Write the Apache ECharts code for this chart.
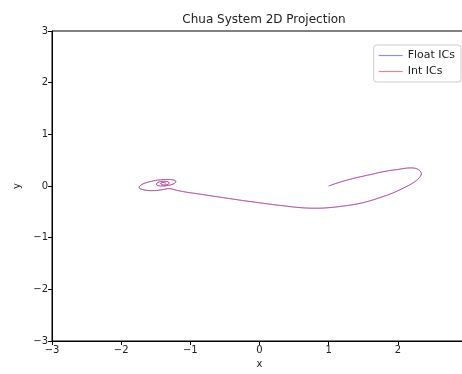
<!DOCTYPE html>
<html>
<head>
<meta charset="utf-8">
<script src="https://cdn.jsdelivr.net/npm/echarts@6/dist/echarts.min.js"></script>
<style>html,body{margin:0;padding:0;background:#fff}#c{width:462px;height:374px}</style>
</head>
<body>
<div id="c"></div>
<script>
const titleText = "Chua System 2D Projection";
const seriesNames = ["Float ICs", "Int ICs"];
const xTicks = [-3, -2, -1, 0, 1, 2, 3];
const yTicks = [-3, -2, -1, 0, 1, 2, 3];

const floatX = [1.00, 1.20, 1.40, 1.60, 1.80, 2.00, 2.18, 2.28, 2.34, 2.31, 2.22, 2.08, 1.92, 1.75, 1.59, 1.40, 1.20, 1.00, 0.82, 0.60, 0.39, 0.20, 0.00, -0.30, -0.60, -0.90, -1.10, -1.22, -1.30,
  -1.42, -1.55, -1.67, -1.74, -1.70, -1.58, -1.43, -1.30, -1.21, -1.23, -1.32, -1.42, -1.49, -1.47, -1.38, -1.31, -1.32, -1.39, -1.43, -1.39, -1.35];
const floatY = [0.00, 0.09, 0.16, 0.22, 0.28, 0.32, 0.35, 0.33, 0.24, 0.16, 0.06, -0.04, -0.14, -0.22, -0.29, -0.35, -0.39, -0.42, -0.43, -0.42, -0.39, -0.36, -0.325, -0.27, -0.21, -0.15, -0.11, -0.075, -0.05,
  -0.075, -0.09, -0.075, -0.03, 0.03, 0.085, 0.12, 0.125, 0.09, 0.05, 0.01, 0.00, 0.03, 0.07, 0.09, 0.07, 0.03, 0.02, 0.05, 0.07, 0.05];
const intX = [1.00, 1.20, 1.40, 1.60, 1.80, 2.00, 2.18, 2.28, 2.34, 2.31, 2.22, 2.08, 1.92, 1.75, 1.59, 1.40, 1.20, 1.00, 0.82, 0.60, 0.39, 0.20, 0.00, -0.30, -0.60, -0.90, -1.10, -1.22, -1.30,
  -1.42, -1.55, -1.67, -1.74, -1.70, -1.58, -1.43, -1.30, -1.21, -1.23, -1.32, -1.42, -1.49, -1.47, -1.38, -1.31, -1.32, -1.39, -1.43, -1.39, -1.35];
const intY = [0.00, 0.09, 0.16, 0.22, 0.28, 0.32, 0.35, 0.33, 0.24, 0.16, 0.06, -0.04, -0.14, -0.22, -0.29, -0.35, -0.39, -0.42, -0.43, -0.42, -0.39, -0.36, -0.325, -0.27, -0.21, -0.15, -0.11, -0.075, -0.05,
  -0.075, -0.09, -0.075, -0.03, 0.03, 0.085, 0.12, 0.125, 0.09, 0.05, 0.01, 0.00, 0.03, 0.07, 0.09, 0.07, 0.03, 0.02, 0.05, 0.07, 0.05];

const pts = (xs, ys) => xs.map((x, i) => [x, ys[i]]);
const fmt = v => String(v).replace('-', '\u2212');
const FONT = 'DejaVu Sans';

const chart = echarts.init(document.getElementById('c'), null, {renderer: 'canvas'});
const axisCommon = {
  type: 'value', min: xTicks[0], max: xTicks[xTicks.length - 1], interval: 1,
  axisLine: {show: true, onZero: false, lineStyle: {color: '#000', width: 1}},
  axisTick: {show: true, length: 4, inside: false, lineStyle: {color: '#000', width: 1}},
  axisLabel: {color: '#222', fontFamily: FONT, fontSize: 10, formatter: fmt, margin: 4},
  splitLine: {show: false},
  nameTextStyle: {color: '#222', fontFamily: FONT, fontSize: 10},
  nameLocation: 'middle'
};
chart.setOption({
  animation: false,
  title: {text: titleText, left: 259, top: 9, textAlign: 'center',
    textStyle: {fontFamily: FONT, fontSize: 12, fontWeight: 'normal', color: '#222'}},
  grid: {left: 52, right: -5, top: 31, bottom: 33, show: true, borderColor: '#000', borderWidth: 1,
    containLabel: false, outerBoundsMode: 'none'},
  legend: {
    data: seriesNames, orient: 'vertical', right: 1, top: 45,
    icon: 'rect', itemWidth: 24, itemHeight: 1.2, itemGap: 5,
    backgroundColor: '#fff', borderColor: '#ccc', borderWidth: 1, borderRadius: 3,
    padding: [5, 6, 5, 5],
    textStyle: {fontFamily: FONT, fontSize: 11, color: '#222'}
  },
  xAxis: Object.assign({}, axisCommon, {name: 'x', nameGap: 18}),
  yAxis: Object.assign({}, axisCommon, {min: yTicks[0], max: yTicks[yTicks.length - 1], name: 'y', nameGap: 27, nameRotate: 90}),
  series: [
    {name: seriesNames[0], type: 'line', data: pts(floatX, floatY), showSymbol: false, smooth: 0.4,
      color: 'rgba(70,70,200,0.6)', lineStyle: {width: 1, color: 'rgba(60,60,230,0.55)'}},
    {name: seriesNames[1], type: 'line', data: pts(intX, intY), showSymbol: false, smooth: 0.4,
      color: 'rgba(210,110,110,0.8)', lineStyle: {width: 1, color: 'rgba(235,40,90,0.55)'}}
  ]
});
</script>
</body>
</html>
